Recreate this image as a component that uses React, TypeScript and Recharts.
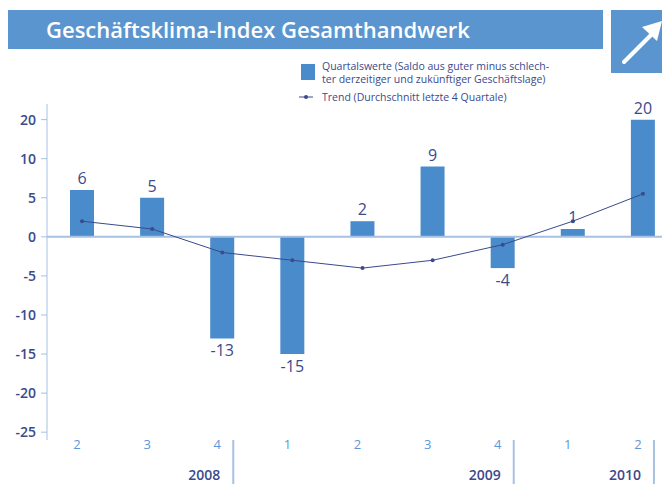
import { ComposedChart, Bar, Line, XAxis, YAxis, ReferenceLine, LabelList } from 'recharts';

const QUARTERS = ['2', '3', '4', '1', '2', '3', '4', '1', '2'];
const YEARS = ['2008', '2008', '2008', '2009', '2009', '2009', '2009', '2010', '2010'];
const QUARTER_VALUES = [6, 5, -13, -15, 2, 9, -4, 1, 20];
const TREND_VALUES = [2, 1, -2, -3, -4, -3, -1, 2, 5.5];
const Y_TICKS = [20, 10, 5, 0, -5, -10, -15, -20, -25];

const BANNER = '#5b95cf';
const BAR_BLUE = '#4a8bcb';
const NAVY = '#3b4a8b';
const LIGHT_BLUE = '#5d97d9';
const AXIS_BLUE = '#a6c1e1';
const FONT = '"Open Sans", "Noto Sans", sans-serif';

// the original axis is broken above 10: the step 10 -> 20 takes the same room as 5 -> 10
const BREAK_AT = 10;

function brokenScale(): any {
  let dom: number[] = [0, 1];
  let rng: number[] = [0, 1];
  const squash = (v: number) => (v > BREAK_AT ? BREAK_AT + (v - BREAK_AT) / 2 : v);
  const s: any = (v: number) => {
    const a = squash(dom[0]);
    const b = squash(dom[1]);
    return rng[0] + ((squash(v) - a) / (b - a)) * (rng[1] - rng[0]);
  };
  s.domain = (d?: number[]) => {
    if (d === undefined) return dom.slice();
    dom = d.map(Number);
    return s;
  };
  s.range = (r?: number[]) => {
    if (r === undefined) return rng.slice();
    rng = r.map(Number);
    return s;
  };
  s.ticks = () => Y_TICKS;
  s.copy = () => brokenScale().domain(dom).range(rng);
  return s;
}

const data = QUARTERS.map((q, i) => ({
  quarter: q,
  slot: `${YEARS[i]}-${i}`,
  value: QUARTER_VALUES[i],
  trend: TREND_VALUES[i],
}));

const ValueLabel = ({ x, y, width, height, value }: any) => {
  const top = Math.min(y, y + height);
  const bottom = Math.max(y, y + height);
  const cx = x + width / 2;
  const neg = value < 0;
  return (
    <text
      x={cx}
      y={neg ? bottom + 18 : top - 6}
      textAnchor="middle"
      fill={NAVY}
      fontSize={16}
      fontFamily={FONT}
    >
      {String(value)}
    </text>
  );
};

const YearTick = ({ x, y, payload }: any) => {
  const i = data.findIndex((d) => d.slot === payload.value);
  const lastOfYear = i === YEARS.length - 1 || YEARS[i + 1] !== YEARS[i];
  if (i < 0 || !lastOfYear) return <g />;
  return (
    <g>
      <text x={x - 2} y={y + 20} textAnchor="end" fill={NAVY} fontSize={14} fontWeight={600} fontFamily={FONT}>
        {YEARS[i]}
      </text>
      <line x1={x + 11} x2={x + 11} y1={y - 20} y2={y + 34} stroke={AXIS_BLUE} strokeWidth={2} />
    </g>
  );
};

export default function App() {
  return (
    <div
      style={{
        margin: -8,
        width: 670,
        height: 492,
        position: 'relative',
        overflow: 'hidden',
        background: '#fff',
        fontFamily: FONT,
      }}
    >
      <div
        style={{
          position: 'absolute',
          left: 8,
          top: 10,
          width: 595,
          height: 39,
          background: BANNER,
          color: '#fff',
          fontSize: 22,
          fontWeight: 600,
          lineHeight: '39px',
          paddingLeft: 38,
          boxSizing: 'border-box',
        }}
      >
        Geschäftsklima-Index Gesamthandwerk
      </div>
      <svg style={{ position: 'absolute', left: 611, top: 10 }} width={56} height={63}>
        <rect x={0} y={0} width={56} height={63} fill={BANNER} />
        <line x1={13} y1={52} x2={44} y2={21} stroke="#fff" strokeWidth={4} strokeLinecap="round" />
        <polygon points="51,11 46,31 31,17" fill="#fff" />
      </svg>

      <svg style={{ position: 'absolute', left: 290, top: 56 }} width={320} height={50}>
        <rect x={11} y={8} width={14} height={16} fill={BAR_BLUE} />
        <text x={32} y={14} fill={NAVY} fontSize={10.5} fontFamily={FONT}>
          Quartalswerte (Saldo aus guter minus schlech-
        </text>
        <text x={32} y={27} fill={NAVY} fontSize={10.5} fontFamily={FONT}>
          ter derzeitiger und zukünftiger Geschäftslage)
        </text>
        <line x1={9} x2={23} y1={41} y2={41} stroke={NAVY} strokeWidth={1} />
        <circle cx={16} cy={41} r={2} fill={NAVY} />
        <text x={32} y={45} fill={NAVY} fontSize={10.5} fontFamily={FONT}>
          Trend (Durchschnitt letzte 4 Quartale)
        </text>
      </svg>

      <div style={{ position: 'absolute', left: 0, top: 0 }}>
        <ComposedChart width={680} height={492} data={data} margin={{ top: 104, right: 2, left: 0, bottom: 0 }}>
          <XAxis
            xAxisId="q"
            dataKey="quarter"
            height={20}
            axisLine={false}
            tickLine={false}
            tickSize={0}
            tickMargin={0}
            interval={0}
            dx={-5}
            tick={{ fill: LIGHT_BLUE, fontSize: 13, fontFamily: FONT }}
          />
          <XAxis
            xAxisId="year"
            dataKey="slot"
            height={32}
            axisLine={false}
            tickLine={false}
            tickSize={0}
            tickMargin={0}
            interval={0}
            tick={<YearTick />}
          />
          <YAxis
            type="number"
            width={47}
            scale={brokenScale()}
            domain={[-26, 24]}
            ticks={Y_TICKS}
            interval={0}
            stroke={AXIS_BLUE}
            tickSize={6}
            tickMargin={5}
            tick={{ fill: NAVY, fontSize: 14, fontWeight: 600, fontFamily: FONT }}
          />
          <ReferenceLine xAxisId="q" y={0} stroke={AXIS_BLUE} strokeWidth={2} />
          <Bar xAxisId="q" dataKey="value" fill={BAR_BLUE} barSize={24} isAnimationActive={false}>
            <LabelList dataKey="value" content={<ValueLabel />} />
          </Bar>
          <Line
            xAxisId="q"
            dataKey="trend"
            type="linear"
            stroke={NAVY}
            strokeWidth={1}
            dot={{ r: 2, fill: NAVY, stroke: NAVY, strokeWidth: 0 }}
            isAnimationActive={false}
          />
        </ComposedChart>
      </div>
    </div>
  );
}
